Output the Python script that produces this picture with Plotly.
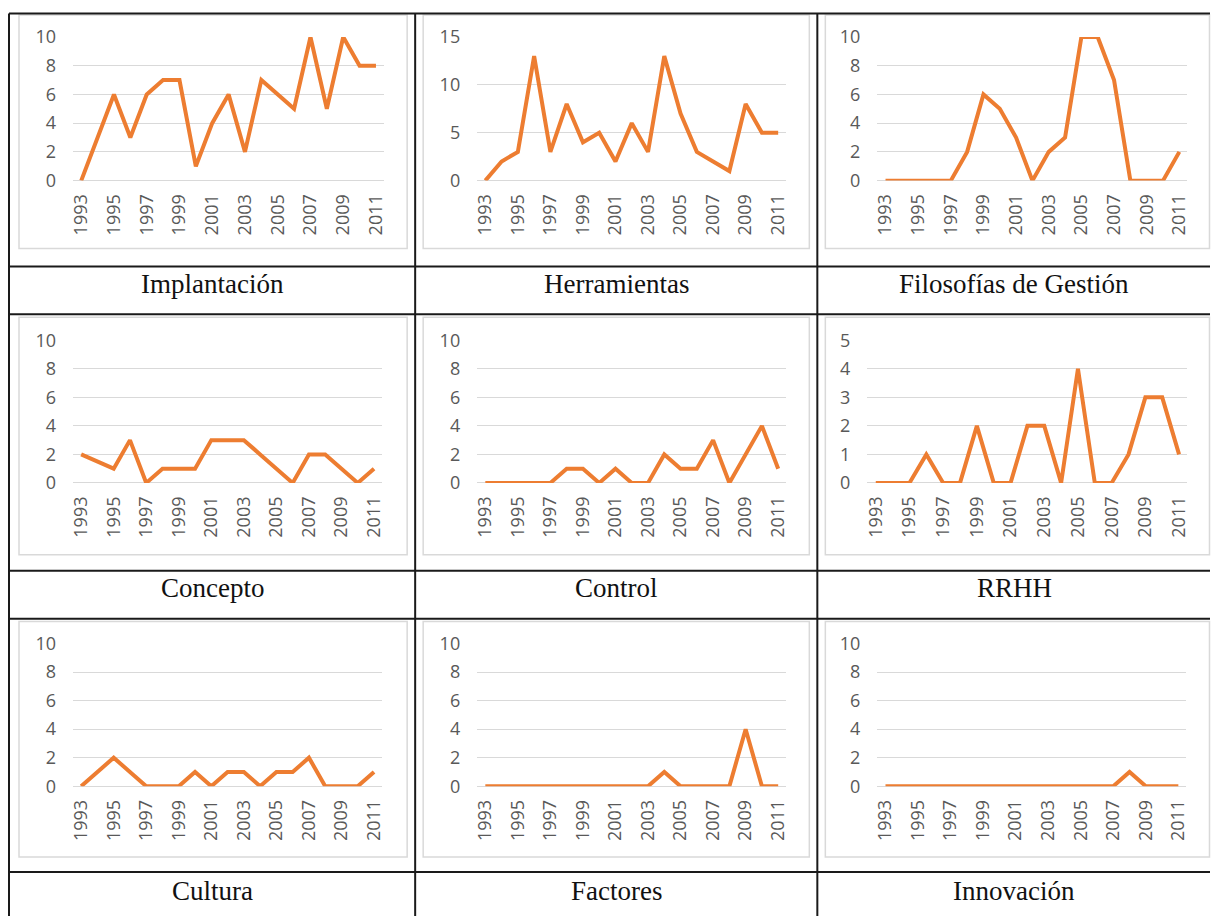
import plotly.graph_objects as go

years = list(range(1993, 2012))
tick_years = [1993, 1995, 1997, 1999, 2001, 2003, 2005, 2007, 2009, 2011]

implantacion = [0, 3, 6, 3, 6, 7, 7, 1, 4, 6, 2, 7, 6, 5, 10, 5, 10, 8, 8]
herramientas = [0, 2, 3, 13, 3, 8, 4, 5, 2, 6, 3, 13, 7, 3, 2, 1, 8, 5, 5]
filosofias = [0, 0, 0, 0, 0, 2, 6, 5, 3, 0, 2, 3, 10, 10, 7, 0, 0, 0, 2]
concepto = [2, 1.5, 1, 3, 0, 1, 1, 1, 3, 3, 3, 2, 1, 0, 2, 2, 1, 0, 1]
control = [0, 0, 0, 0, 0, 1, 1, 0, 1, 0, 0, 2, 1, 1, 3, 0, 2, 4, 1]
rrhh = [0, 0, 0, 1, 0, 0, 2, 0, 0, 2, 2, 0, 4, 0, 0, 1, 3, 3, 1]
cultura = [0, 1, 2, 1, 0, 0, 0, 1, 0, 1, 1, 0, 1, 1, 2, 0, 0, 0, 1]
factores = [0, 0, 0, 0, 0, 0, 0, 0, 0, 0, 0, 1, 0, 0, 0, 0, 4, 0, 0]
innovacion = [0, 0, 0, 0, 0, 0, 0, 0, 0, 0, 0, 0, 0, 0, 0, 1, 0, 0, 0]

titles = ["Implantación", "Herramientas", "Filosofías de Gestión",
          "Concepto", "Control", "RRHH",
          "Cultura", "Factores", "Innovación"]
series = [implantacion, herramientas, filosofias,
          concepto, control, rrhh,
          cultura, factores, innovacion]
y_max = [10, 15, 10, 10, 10, 5, 10, 10, 10]
y_step = [2, 5, 2, 2, 2, 1, 2, 2, 2]

W, H = 1213, 916
# target pixel positions -> paper coords (calibrated to the page capture)
def fx(px):
    return ((px - 6) / 0.993) / W
def fy(py):
    return 1 - ((py - 12) / 0.976) / H

# plot-area pixel boxes (gridline extents)
x_dom = [[(74, 385), (478, 787), (878, 1188)],
         [(74, 383), (478, 787), (868, 1188)],
         [(74, 383), (478, 787), (878, 1187)]]
y_dom = [(36, 180), (340, 483), (644, 787)]
box_x = [(20, 408), (424, 810), (826, 1210)]
box_y = [(14, 248), (317, 555), (622, 858)]
cap_y = [284, 588, 892]
col_center = [213, 617, 1015]

ORANGE = "#ED7D31"
GRID = "#d9d9d9"
TICK = "#595959"

fig = go.Figure()
shapes = []
annotations = []
layout_axes = {}

for i in range(9):
    r, c = divmod(i, 3)
    k = "" if i == 0 else str(i + 1)
    fig.add_trace(go.Scatter(
        x=years, y=series[i], mode="lines",
        line=dict(color=ORANGE, width=4),
        cliponaxis=False, showlegend=False, hoverinfo="x+y",
        xaxis="x" + k, yaxis="y" + k))
    x0, x1 = x_dom[r][c]
    y0, y1 = y_dom[r]
    layout_axes["xaxis" + k] = dict(
        domain=[fx(x0), fx(x1)], anchor="y" + k,
        range=[1992.5, 2011.5], tickmode="array",
        tickvals=tick_years, ticktext=[str(t) for t in tick_years],
        tickangle=-90, showgrid=False, zeroline=False, showline=False,
        ticks="", ticklabelstandoff=9,
        tickfont=dict(family="Open Sans", size=18, color=TICK))
    layout_axes["yaxis" + k] = dict(
        domain=[fy(y1), fy(y0)], anchor="x" + k,
        range=[0, y_max[i]], dtick=y_step[i], tick0=0,
        showgrid=True, gridcolor=GRID, gridwidth=1,
        zeroline=True, zerolinecolor=GRID, zerolinewidth=1,
        showline=False, ticks="", ticklabelstandoff=16,
        tickfont=dict(family="Open Sans", size=18, color=TICK))
    bx0, bx1 = box_x[c]
    by0, by1 = box_y[r]
    shapes.append(dict(type="rect", xref="paper", yref="paper",
                       x0=fx(bx0), x1=fx(bx1), y0=fy(by1), y1=fy(by0),
                       line=dict(color="#d9d9d9", width=1.5),
                       fillcolor="rgba(0,0,0,0)", layer="below"))
    annotations.append(dict(text=titles[i], xref="paper", yref="paper",
                            x=fx(col_center[c]), y=fy(cap_y[r]),
                            xanchor="center", yanchor="middle", showarrow=False,
                            font=dict(family="Liberation Serif", size=27, color="#111111")))

# table lines
for vx in [10, 416, 818]:
    shapes.append(dict(type="line", xref="paper", yref="paper",
                       x0=fx(vx), x1=fx(vx), y0=fy(12.5), y1=fy(930),
                       line=dict(color="#1a1a1a", width=2)))
for hy in [12.5, 266, 314, 571, 619, 873]:
    shapes.append(dict(type="line", xref="paper", yref="paper",
                       x0=fx(10), x1=1, y0=fy(hy), y1=fy(hy),
                       line=dict(color="#1a1a1a", width=2)))

fig.update_layout(
    width=W, height=H,
    margin=dict(l=0, r=0, t=0, b=0),
    paper_bgcolor="white", plot_bgcolor="white",
    shapes=shapes, annotations=annotations,
    **layout_axes)

fig.write_html("out.html", config={"displayModeBar": False},
               post_script="document.body.style.margin='0';document.body.style.overflow='hidden';")
